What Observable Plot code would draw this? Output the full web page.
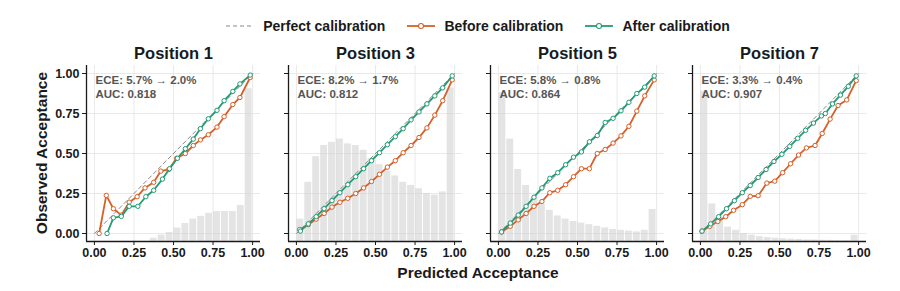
<!DOCTYPE html>
<html>
<head>
<meta charset="utf-8">
<script src="https://cdn.jsdelivr.net/npm/d3@7"></script>
<script src="https://cdn.jsdelivr.net/npm/@observablehq/plot@0.6"></script>
<style>
  html, body { margin: 0; padding: 0; background: #fff; }
  #chart { position: relative; width: 900px; height: 291px; background: #fff;
           font-family: "Liberation Sans", Arial, sans-serif; color: #1a1a1a; }
  #legend { position: absolute; left: 0; top: 6px; width: 900px; height: 40px; box-sizing: border-box;
            padding-left: 56px; display: flex; align-items: center; justify-content: center;
            font-size: 14px; font-weight: bold; }
  .item { display: flex; align-items: center; margin: 0 11px; }
  .item svg { margin-right: 9px; }
  #plot { position: absolute; left: 0; top: 40px; }
  .axis-title { position: absolute; font-size: 15.5px; font-weight: bold; text-align: center;
                line-height: 20px; white-space: nowrap; }
</style>
</head>
<body>
<div id="chart">
  <div id="plot"></div>
  <div id="legend"></div>
  <div class="axis-title" id="xtitle" style="left:378px; top:263px; width:200px;">Predicted Acceptance</div>
  <div class="axis-title" id="ytitle" style="left:-58px; top:143px; width:200px; height:20px; transform:rotate(-90deg);">Observed Acceptance</div>
</div>
<script>
// Facets: ad slot positions
const positions = [1, 3, 5, 7];

// Histogram of predicted scores, 20 bins of width 0.05 (bar tops on the acceptance axis)
const binLo = [0, 0.05, 0.1, 0.15, 0.2, 0.25, 0.3, 0.35, 0.4, 0.45, 0.5, 0.55, 0.6, 0.65, 0.7, 0.75, 0.8, 0.85, 0.9, 0.95];
const binHi = [0.05, 0.1, 0.15, 0.2, 0.25, 0.3, 0.35, 0.4, 0.45, 0.5, 0.55, 0.6, 0.65, 0.7, 0.75, 0.8, 0.85, 0.9, 0.95, 1.0];
const histPos1 = [-0.05, -0.05, -0.05, -0.05, -0.05, -0.05, -0.05, -0.03, -0.01, 0.006, 0.034, 0.063, 0.09, 0.107, 0.126, 0.137, 0.137, 0.137, 0.175, 0.905];
const histPos3 = [0.09, 0.32, 0.48, 0.55, 0.57, 0.59, 0.56, 0.55, 0.52, 0.47, 0.43, 0.39, 0.36, 0.32, 0.30, 0.28, 0.25, 0.24, 0.26, 0.91];
const histPos5 = [0.88, 0.59, 0.40, 0.30, 0.22, 0.18, 0.145, 0.11, 0.09, 0.075, 0.065, 0.055, 0.045, 0.035, 0.025, 0.02, 0.015, 0.01, 0.02, 0.15];
const histPos7 = [0.89, 0.185, 0.10, 0.04, 0.02, 0.0, -0.01, -0.02, -0.025, -0.03, -0.033, -0.035, -0.037, -0.04, -0.04, -0.042, -0.043, -0.045, -0.045, -0.01];

// Reliability curves: mean predicted vs observed acceptance per bin
const beforeX1 = [0.03, 0.075, 0.12, 0.17, 0.22, 0.27, 0.32, 0.375, 0.42, 0.47, 0.52, 0.575, 0.625, 0.67, 0.72, 0.775, 0.82, 0.875, 0.92, 0.985];
const beforeY1 = [0.0, 0.238, 0.155, 0.115, 0.196, 0.23, 0.285, 0.32, 0.39, 0.40, 0.47, 0.50, 0.55, 0.585, 0.617, 0.665, 0.73, 0.806, 0.85, 0.975];
const afterX1 = [0.08, 0.12, 0.17, 0.22, 0.275, 0.325, 0.375, 0.43, 0.475, 0.525, 0.575, 0.625, 0.67, 0.72, 0.775, 0.82, 0.875, 0.92, 0.985];
const afterY1 = [0.0, 0.098, 0.107, 0.17, 0.17, 0.23, 0.27, 0.34, 0.405, 0.47, 0.53, 0.59, 0.655, 0.717, 0.77, 0.83, 0.888, 0.935, 0.99];

const beforeX3 = [0.02, 0.075, 0.125, 0.175, 0.225, 0.275, 0.325, 0.375, 0.425, 0.475, 0.525, 0.575, 0.625, 0.675, 0.725, 0.775, 0.825, 0.875, 0.925, 0.985];
const beforeY3 = [0.025, 0.055, 0.09, 0.125, 0.165, 0.195, 0.22, 0.25, 0.285, 0.325, 0.37, 0.415, 0.455, 0.505, 0.55, 0.6, 0.66, 0.74, 0.83, 0.96];
const afterX3 = [0.025, 0.075, 0.125, 0.175, 0.225, 0.275, 0.325, 0.375, 0.425, 0.475, 0.525, 0.575, 0.625, 0.675, 0.725, 0.775, 0.825, 0.875, 0.925, 0.985];
const afterY3 = [0.015, 0.06, 0.105, 0.155, 0.205, 0.255, 0.305, 0.355, 0.405, 0.455, 0.505, 0.555, 0.605, 0.655, 0.71, 0.76, 0.81, 0.86, 0.91, 0.985];

const beforeX5 = [0.02, 0.075, 0.125, 0.175, 0.225, 0.275, 0.325, 0.375, 0.425, 0.475, 0.525, 0.575, 0.625, 0.675, 0.725, 0.775, 0.825, 0.875, 0.925, 0.985];
const beforeY5 = [0.01, 0.045, 0.085, 0.125, 0.17, 0.20, 0.255, 0.27, 0.305, 0.355, 0.405, 0.405, 0.50, 0.525, 0.565, 0.61, 0.67, 0.765, 0.86, 0.96];
const afterX5 = [0.02, 0.075, 0.125, 0.175, 0.225, 0.275, 0.325, 0.375, 0.425, 0.475, 0.525, 0.575, 0.625, 0.675, 0.725, 0.775, 0.825, 0.875, 0.925, 0.985];
const afterY5 = [0.01, 0.065, 0.115, 0.17, 0.227, 0.285, 0.345, 0.38, 0.43, 0.477, 0.51, 0.573, 0.612, 0.694, 0.72, 0.767, 0.82, 0.875, 0.915, 0.985];

const beforeX7 = [0.01, 0.06, 0.11, 0.16, 0.21, 0.265, 0.315, 0.365, 0.42, 0.47, 0.52, 0.57, 0.62, 0.67, 0.725, 0.77, 0.82, 0.87, 0.925, 0.985];
const beforeY7 = [0.015, 0.045, 0.075, 0.105, 0.145, 0.18, 0.232, 0.236, 0.315, 0.327, 0.38, 0.436, 0.49, 0.535, 0.55, 0.625, 0.715, 0.80, 0.835, 0.955];
const afterX7 = [0.01, 0.065, 0.115, 0.165, 0.215, 0.265, 0.315, 0.365, 0.415, 0.465, 0.515, 0.565, 0.615, 0.665, 0.715, 0.765, 0.79, 0.835, 0.885, 0.935, 0.985];
const afterY7 = [0.015, 0.06, 0.105, 0.155, 0.205, 0.255, 0.30, 0.35, 0.40, 0.45, 0.495, 0.545, 0.595, 0.645, 0.69, 0.735, 0.75, 0.81, 0.865, 0.92, 0.985];

// Metrics printed in each panel
const eceBefore = ["5.7%", "8.2%", "5.8%", "3.3%"];
const eceAfter = ["2.0%", "1.7%", "0.8%", "0.4%"];
const aucValues = ["0.818", "0.812", "0.864", "0.907"];

// Perfect calibration diagonal endpoints and shared ticks
const diagonal = [0, 1];
const tickValues = [0, 0.25, 0.5, 0.75, 1];
const xDomain = [-0.05, 1.05];
const yDomain = [-0.05, 1.05];

const colorBefore = "#d5602a";
const colorAfter = "#249a76";
const colorPerfect = "#8a8a8a";

// Long-format tables for faceting
const histTops = [histPos1, histPos3, histPos5, histPos7];
const histRows = positions.flatMap((p, i) =>
  histTops[i].map((top, j) => ({pos: p, x1: binLo[j], x2: binHi[j], top}))
).filter(d => d.top > yDomain[0]);

const toRows = (xs, ys) => (p, i) => xs[i].map((x, j) => ({pos: p, x, y: ys[i][j]}));
const beforeRows = positions.flatMap(toRows([beforeX1, beforeX3, beforeX5, beforeX7], [beforeY1, beforeY3, beforeY5, beforeY7]));
const afterRows = positions.flatMap(toRows([afterX1, afterX3, afterX5, afterX7], [afterY1, afterY3, afterY5, afterY7]));
const metricRows = positions.map((p, i) => ({pos: p, label: `ECE: ${eceBefore[i]} \u2192 ${eceAfter[i]}\nAUC: ${aucValues[i]}`}));

const chart = Plot.plot({
  width: 900,
  height: 251,
  marginTop: 25,
  marginBottom: 50,
  marginLeft: 86,
  marginRight: 34,
  style: {fontFamily: "'Liberation Sans', Arial, sans-serif", background: "white", color: "#1a1a1a", overflow: "visible"},
  fx: {domain: positions, paddingInner: 28 / 202, paddingOuter: 0, label: null},
  x: {domain: xDomain},
  y: {domain: yDomain},
  marks: [
    Plot.gridX(tickValues, {stroke: "#e6e6e6", strokeOpacity: 1, strokeWidth: 0.9}),
    Plot.gridY(tickValues, {stroke: "#e6e6e6", strokeOpacity: 1, strokeWidth: 0.9}),
    Plot.rect(histRows, {fx: "pos", x1: "x1", x2: "x2", y1: yDomain[0], y2: "top",
      fill: "#d2d2d2", fillOpacity: 0.6, insetLeft: 0.5, insetRight: 0.5}),
    Plot.line(diagonal, {x: d => d, y: d => d, stroke: colorPerfect, strokeWidth: 1, strokeDasharray: "4,3"}),
    Plot.line(beforeRows, {fx: "pos", x: "x", y: "y", stroke: colorBefore, strokeWidth: 1.8}),
    Plot.dot(beforeRows, {fx: "pos", x: "x", y: "y", r: 2.2, fill: "white", stroke: colorBefore, strokeWidth: 1}),
    Plot.line(afterRows, {fx: "pos", x: "x", y: "y", stroke: colorAfter, strokeWidth: 1.8}),
    Plot.dot(afterRows, {fx: "pos", x: "x", y: "y", r: 2.2, fill: "white", stroke: colorAfter, strokeWidth: 1}),
    Plot.text(metricRows, {fx: "pos", text: "label", frameAnchor: "top-left", lineAnchor: "top",
      textAnchor: "start", dx: 9, dy: 9.5, fontSize: 11.5, fontWeight: "bold", fill: "#555", lineHeight: 1.15}),
    Plot.ruleX([xDomain[0]], {stroke: "#1a1a1a", strokeWidth: 1.3}),
    Plot.ruleY([yDomain[0]], {stroke: "#1a1a1a", strokeWidth: 1.3}),
    Plot.axisX(tickValues, {tickSize: 4, tickPadding: 3, tickFormat: d3.format(".2f"), fontSize: 12.5,
      fontWeight: "bold", label: null, stroke: "#1a1a1a"}),
    Plot.axisY(tickValues, {tickSize: 4, tickPadding: 3, tickFormat: d3.format(".2f"), fontSize: 12.5,
      fontWeight: "bold", label: null, stroke: "#1a1a1a"}),
    Plot.axisY(tickValues, {tickSize: 4, tickFormat: () => "", label: null, stroke: "#1a1a1a", facetAnchor: null}),
    Plot.axisFx({anchor: "top", tickSize: 0, tickPadding: 7, fontSize: 16.5, fontWeight: "bold",
      tickFormat: d => `Position ${d}`, label: null})
  ]
});
document.getElementById("plot").appendChild(chart);

// Legend row above the panels
const legendItems = [
  {label: "Perfect calibration", color: colorPerfect, dash: "4,3", marker: false},
  {label: "Before calibration", color: colorBefore, dash: null, marker: true},
  {label: "After calibration", color: colorAfter, dash: null, marker: true}
];
const legend = d3.select("#legend");
for (const item of legendItems) {
  const el = legend.append("div").attr("class", "item");
  const s = el.append("svg").attr("width", 28).attr("height", 10);
  s.append("line").attr("x1", 0).attr("x2", 28).attr("y1", 5).attr("y2", 5)
    .attr("stroke", item.color).attr("stroke-width", item.marker ? 1.8 : 1.1)
    .attr("stroke-dasharray", item.dash);
  if (item.marker) s.append("circle").attr("cx", 14).attr("cy", 5).attr("r", 2.5)
    .attr("fill", "white").attr("stroke", item.color).attr("stroke-width", 1.1);
  el.append("span").text(item.label);
}
</script>
</body>
</html>
